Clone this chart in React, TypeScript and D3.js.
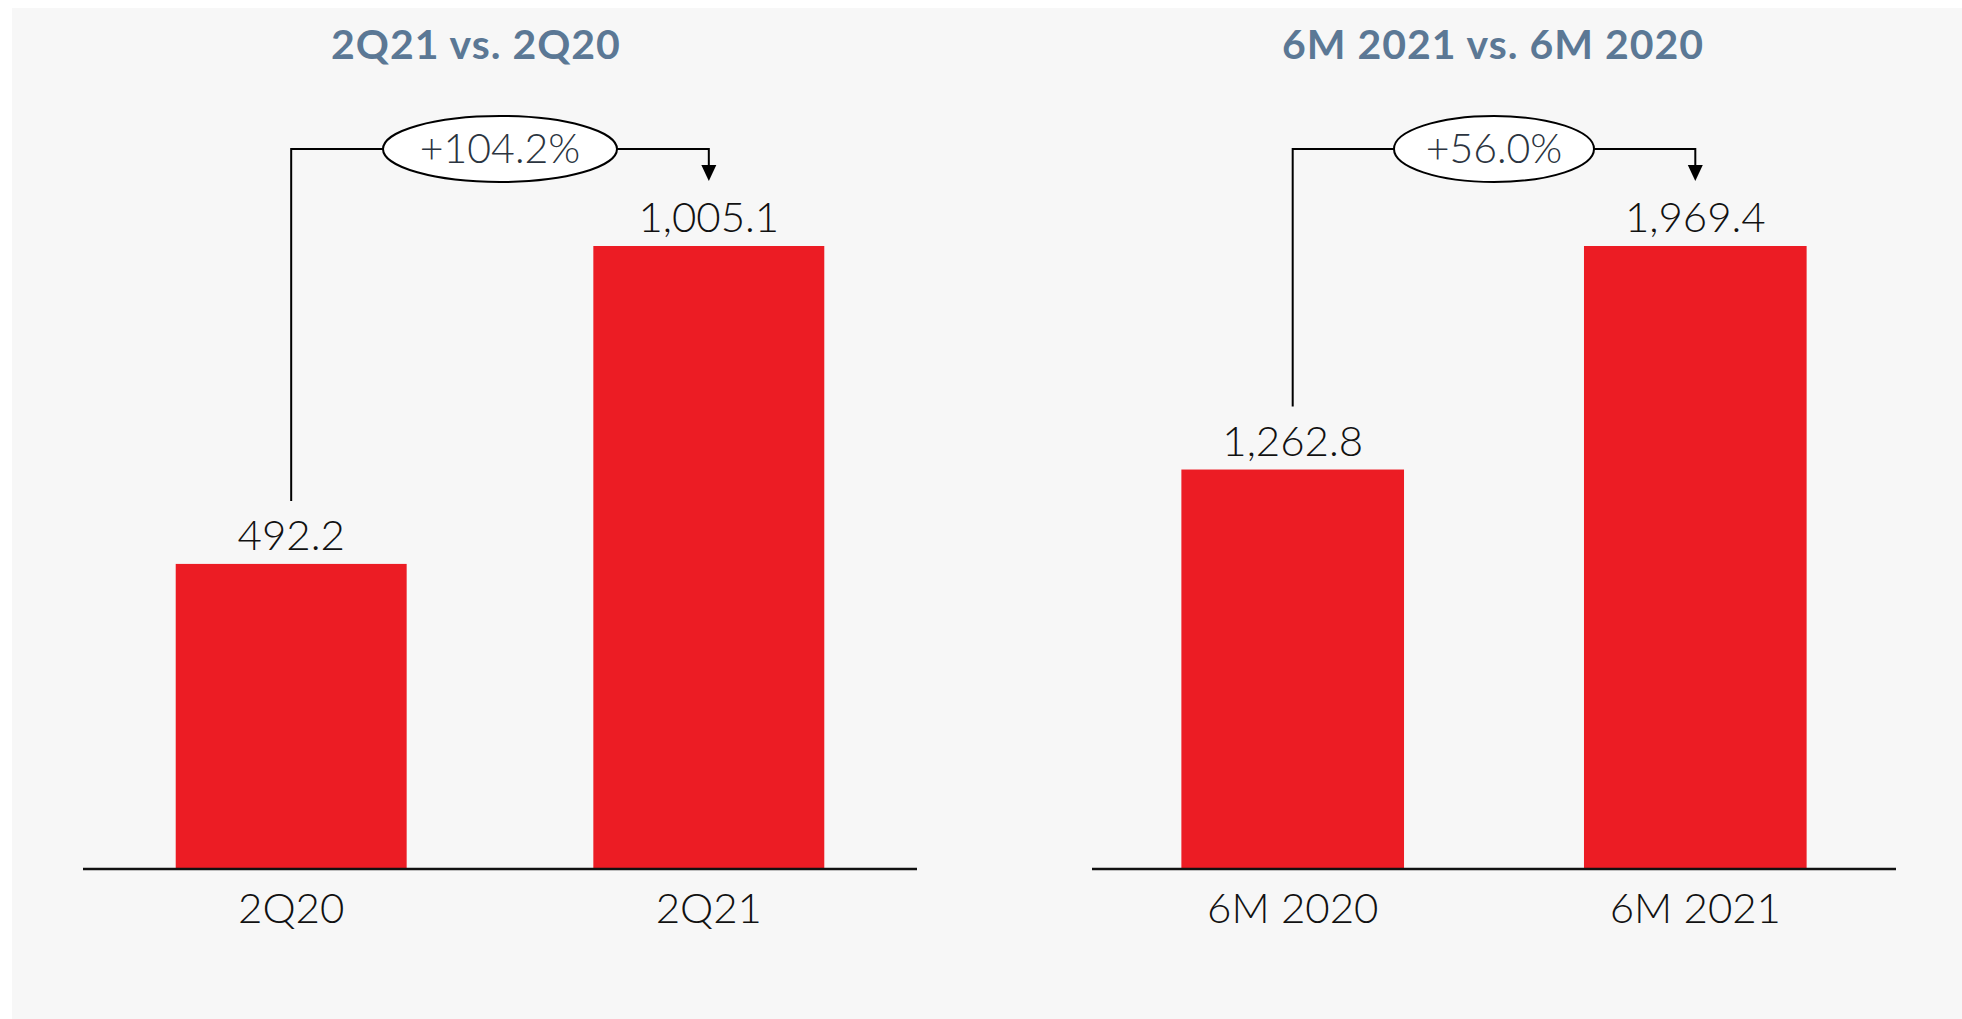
import React from "react";
import * as d3 from "d3";

const panelTitles = ["2Q21 vs. 2Q20", "6M 2021 vs. 6M 2020"];
const quarterCategories = ["2Q20", "2Q21"];
const quarterValues = [492.2, 1005.1];
const quarterChange = "+104.2%";
const halfYearCategories = ["6M 2020", "6M 2021"];
const halfYearValues = [1262.8, 1969.4];
const halfYearChange = "+56.0%";

const W = 1962;
const H = 1019;
const baseY = 869;
const topY = 246;
const RED = "#ec1c24";
const TITLE_COLOR = "#5b7895";
const FONT = "Lato, 'Open Sans', 'Noto Sans', sans-serif";

const fmt = d3.format(",.1f");

type PanelSpec = {
  title: string;
  categories: string[];
  values: number[];
  change: string;
  x0: number;
  x1: number;
  titleX: number;
  rx: number;
};

const panels: PanelSpec[] = [
  { title: panelTitles[0], categories: quarterCategories, values: quarterValues, change: quarterChange, x0: 83, x1: 917, titleX: 476, rx: 117 },
  { title: panelTitles[1], categories: halfYearCategories, values: halfYearValues, change: halfYearChange, x0: 1092, x1: 1896, titleX: 1493, rx: 100 },
];

function Panel({ p }: { p: PanelSpec }) {
  const x = d3.scaleBand<string>().domain(p.categories).range([p.x0, p.x1]).paddingInner(0.447).paddingOuter(0.222);
  const y = d3.scaleLinear().domain([0, d3.max(p.values) as number]).range([baseY, topY]);
  const bw = x.bandwidth();
  const c0 = (x(p.categories[0]) as number) + bw / 2;
  const c1 = (x(p.categories[1]) as number) + bw / 2;
  const ecx = (p.x0 + p.x1) / 2;
  const ecy = 149;
  const ry = 33;
  const capH = 31;
  const labelGap = 14;
  const v0Top = y(p.values[0]) - labelGap - capH - 18;
  const arrowTip = 181;
  const arrowH = 16;
  const arrowW = 15;
  return (
    <g>
      <text x={p.titleX} y={59} textAnchor="middle" fill={TITLE_COLOR} fontFamily={FONT} fontWeight={700} fontSize={41} letterSpacing={1}>
        {p.title}
      </text>
      {p.categories.map((c, i) => (
        <rect key={c} x={x(c)} y={y(p.values[i])} width={bw} height={baseY - y(p.values[i])} fill={RED} />
      ))}
      <line x1={p.x0} x2={p.x1} y1={baseY} y2={baseY} stroke="#111" strokeWidth={2.5} />
      {p.categories.map((c, i) => (
        <text key={"v" + c} x={(x(c) as number) + bw / 2} y={y(p.values[i]) - labelGap} textAnchor="middle" fill="#111" fontFamily={FONT} fontWeight={300} fontSize={42}>
          {fmt(p.values[i])}
        </text>
      ))}
      {p.categories.map((c) => (
        <text key={"c" + c} x={(x(c) as number) + bw / 2} y={923} textAnchor="middle" fill="#111" fontFamily={FONT} fontWeight={300} fontSize={42}>
          {c}
        </text>
      ))}
      <path
        d={`M${c0},${v0Top} V${ecy} H${ecx - p.rx} M${ecx + p.rx},${ecy} H${c1} V${arrowTip - arrowH}`}
        fill="none"
        stroke="#000"
        strokeWidth={2}
      />
      <path d={`M${c1 - arrowW / 2},${arrowTip - arrowH} L${c1 + arrowW / 2},${arrowTip - arrowH} L${c1},${arrowTip} Z`} fill="#000" />
      <ellipse cx={ecx} cy={ecy} rx={p.rx} ry={ry} fill="#fff" stroke="#000" strokeWidth={2} />
      <text x={ecx} y={ecy + 14} textAnchor="middle" fill="#2b3440" fontFamily={FONT} fontWeight={300} fontSize={41}>
        {p.change}
      </text>
    </g>
  );
}

export default function App() {
  return (
    <svg width={W} height={H} style={{ position: "absolute", left: 0, top: 0, display: "block" }}>
      <rect x={0} y={0} width={W} height={H} fill="#fff" />
      <rect x={12} y={8} width={W - 12} height={H - 8} fill="#f7f7f7" />
      {panels.map((p) => (
        <Panel key={p.title} p={p} />
      ))}
    </svg>
  );
}
